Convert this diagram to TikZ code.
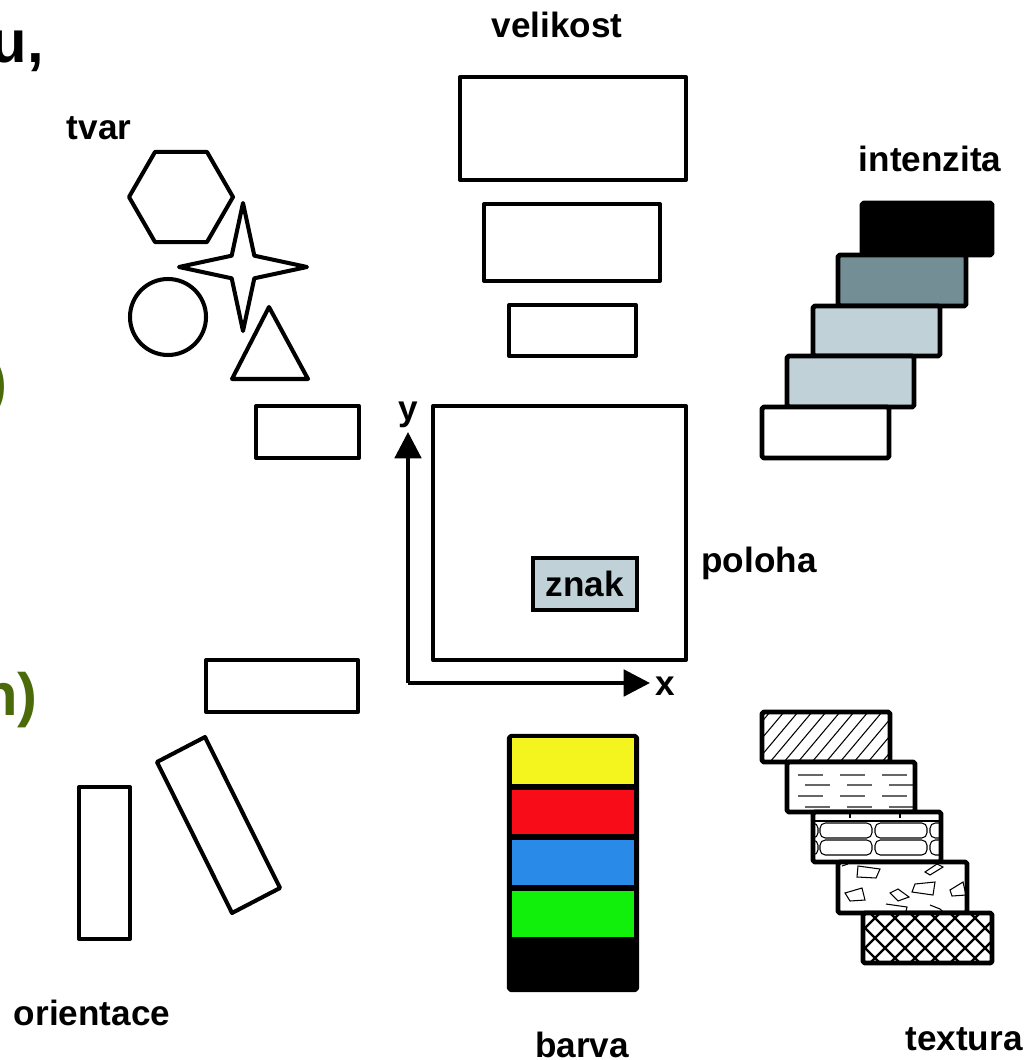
\documentclass[tikz,border=0pt]{standalone}
\usepackage{fontspec}
\setmainfont{Liberation Sans}
\usepackage{xcolor}
\usetikzlibrary{arrows.meta}

\definecolor{olivetxt}{HTML}{4B6B0A}
\definecolor{grayteal}{HTML}{738F95}
\definecolor{palegray}{HTML}{C1D1D8}
\definecolor{cyellow}{HTML}{F4F41E}
\definecolor{cred}{HTML}{F80C18}
\definecolor{cblue}{HTML}{2A8AE8}
\definecolor{cgreen}{HTML}{10F00A}

\tikzset{
  box/.style={draw, line width=2.3pt, line join=round},
  stairbox/.style={draw, line width=2.8pt, line join=round, rounded corners=1pt},
  thin/.style={line width=0.6pt},
  lbl/.style={font=\fontsize{20}{24}\selectfont\bfseries, inner sep=0pt, anchor=base},
  bigfrag/.style={font=\fontsize{34}{40}\selectfont\bfseries, inner sep=0pt, anchor=base east}
}

\begin{document}
\begin{tikzpicture}[x=0.02cm, y=-0.02cm]
    \useasboundingbox (0,0) rectangle (1026,1060);

    % cut-off text at the left edge
    \node[bigfrag] (fragu) at (44,63) {u,};
    \node[bigfrag, text=olivetxt] (fragpar) at (8,402) {)};
    \node[bigfrag, text=olivetxt] (fragn) at (38,715) {n)};

    % velikost
    \node[lbl] (velikost) at (557,38) {velikost};
    \draw[box] (460,77) rectangle (686,180);
    \draw[box] (484,204) rectangle (660,281);
    \draw[box] (509,305) rectangle (636,356);

    % tvar
    \node[lbl] (tvar) at (99,140) {tvar};
    \draw[box] (181,197) +(0:52) -- +(60:52) -- +(120:52) -- +(180:52)
        -- +(240:52) -- +(300:52) -- cycle;
    \draw[box] (243,267) +(0:64) -- +(45:16) -- +(90:64) -- +(135:16)
        -- +(180:64) -- +(225:16) -- +(270:64) -- +(315:16) -- cycle;
    \draw[box] (168,317) circle[radius=38];
    \draw[box] (269,307) -- (308,379) -- (232,379) -- cycle;
    \draw[box] (256,406) rectangle (359,458);

    % intenzita
    \node[lbl] (intenzita) at (930,172) {intenzita};
    \draw[stairbox, fill=black] (862,203) rectangle (992,255);
    \draw[stairbox, fill=grayteal] (838,255) rectangle (966,306);
    \draw[stairbox, fill=palegray] (813,306) rectangle (940,356);
    \draw[stairbox, fill=palegray] (787,356) rectangle (914,407);
    \draw[stairbox, fill=white] (762,407) rectangle (889,458);

    % poloha
    \draw[box] (433,406) rectangle (686,660);
    \node[draw, line width=2.3pt, fill=palegray, minimum width=104*0.02cm,
        minimum height=52*0.02cm, inner sep=0pt,
        font=\fontsize{20}{24}\selectfont\bfseries] (znak) at (585,584) {znak};
    \coordinate (o) at (408,683);
    \node[lbl] (ylab) at (408,420) {y};
    \node[lbl] (xlab) at (665,695) {x};
    \coordinate (ytip) at (408,432);
    \coordinate (xtip) at (650,683);
    \draw[line width=2.3pt, line join=round, -{Triangle[length=15pt,width=15pt]}] (o) -- (ytip);
    \draw[line width=2.3pt, line join=round, -{Triangle[length=15pt,width=15pt]}] (o) -- (xtip);
    \node[lbl] (poloha) at (759,572) {poloha};

    % orientace
    \draw[box] (206,660) rectangle (358,712);
    \draw[box] (79,787) rectangle (130,939);
    \draw[box] (157,762) -- (205,737) -- (280,888) -- (232,913) -- cycle;
    \node[lbl] (orientace) at (92,1025) {orientace};

    % barva
    \draw[box, fill=black, rounded corners=1pt] (509,736) rectangle (637,990);
    \fill[cyellow] (512,738) rectangle (634,784);
    \fill[cred] (512,790) rectangle (634,834);
    \fill[cblue] (512,840) rectangle (634,885);
    \fill[cgreen] (512,891) rectangle (634,937);
    \node[lbl] (barva) at (582,1057) {barva};

    % textura
    \node[lbl] (textura) at (964,1050) {textura};
    \begin{scope}
        \clip (762,712) rectangle (890,762);
        \foreach \i in {700,714,...,900}
            \draw[thin] (\i,762) -- (\i+42,712);
    \end{scope}
    \draw[stairbox] (762,712) rectangle (890,762);

    \fill[white] (787,762) rectangle (915,812);
    \foreach \r/\s in {775/0,785/7,796/0,807/7}
        \foreach \d in {798,840,882}
            \draw[thin, gray!80!black] (\d+\s,\r) -- (\d+\s+25,\r);
    \draw[stairbox] (787,762) rectangle (915,812);

    \fill[white] (813,812) rectangle (941,862);
    \begin{scope}
        \clip (813,812) rectangle (941,862);
        \draw[thin] (813,821) -- (941,821);
        \foreach \xx in {850,900}
            \draw[thin] (\xx,812) -- (\xx,818);
        \foreach \yy in {823,840}
            \foreach \xx in {766,820,875,930}
                \draw[thin, rounded corners=3pt] (\xx,\yy) rectangle (\xx+52,\yy+15);
    \end{scope}
    \draw[stairbox] (813,812) rectangle (941,862);

    \fill[white] (838,862) rectangle (967,913);
    \begin{scope}
        \clip (838,862) rectangle (967,913);
        \draw[thin] (858,866) -- (880,869) -- (876,878) -- (857,877) -- cycle;
        \draw[thin] (925,872) -- (937,864) -- (943,867) -- (930,875) -- cycle;
        \draw[thin] (915,884) -- (935,882) -- (933,895) -- (912,892) -- cycle;
        \draw[thin] (845,893) -- (862,888) -- (865,900) -- (850,901) -- cycle;
        \draw[thin] (890,893) -- (898,889) -- (909,897) -- (898,901) -- cycle;
        \draw[thin] (886,904) -- (907,907) -- (905,915);
        \draw[thin] (930,905) -- (940,909) -- (946,915);
        \draw[thin] (950,890) -- (963,882) -- (966,895) -- (952,896) -- cycle;
        \draw[thin] (842,866) -- (848,864);
    \end{scope}
    \draw[stairbox] (838,862) rectangle (967,913);

    \fill[white] (863,913) rectangle (992,963);
    \begin{scope}
        \clip (863,913) rectangle (992,963);
        \foreach \i in {790,810,...,1000} {
            \draw[line width=1.3pt] (\i,963) -- (\i+50,913);
            \draw[line width=1.3pt] (\i,913) -- (\i+50,963);
        }
    \end{scope}
    \draw[stairbox] (863,913) rectangle (992,963);
\end{tikzpicture}
\end{document}
